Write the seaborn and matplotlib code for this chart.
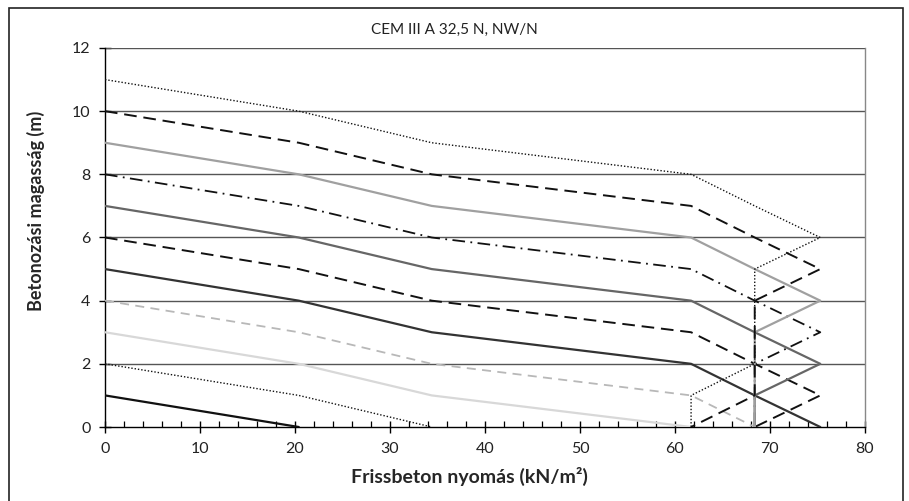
import matplotlib
matplotlib.use("Agg")
import matplotlib.pyplot as plt
import seaborn as sns
from matplotlib.patches import Rectangle
from matplotlib.ticker import MultipleLocator

# Nyomásértékek (kN/m2) és magasságok (m) betonozási magasságonként
p_h1 = [0, 20.4]
z_h1 = [1, 0]
p_h2 = [0, 20.4, 34.4]
z_h2 = [2, 1, 0]
p_h3 = [0, 20.4, 34.4, 61.7]
z_h3 = [3, 2, 1, 0]
p_h4 = [0, 20.4, 34.4, 61.7, 68.4]
z_h4 = [4, 3, 2, 1, 0]
p_h5 = [0, 20.4, 34.4, 61.7, 68.4, 75.3]
z_h5 = [5, 4, 3, 2, 1, 0]
p_h6 = [0, 20.4, 34.4, 61.7, 68.4, 75.3, 68.4]
z_h6 = [6, 5, 4, 3, 2, 1, 0]
p_h7 = [0, 20.4, 34.4, 61.7, 68.4, 75.3, 68.4, 68.4]
z_h7 = [7, 6, 5, 4, 3, 2, 1, 0]
p_h8 = [0, 20.4, 34.4, 61.7, 68.4, 75.3, 68.4, 68.4, 68.4]
z_h8 = [8, 7, 6, 5, 4, 3, 2, 1, 0]
p_h9 = [0, 20.4, 34.4, 61.7, 68.4, 75.3, 68.4, 68.4, 68.4, 68.4]
z_h9 = [9, 8, 7, 6, 5, 4, 3, 2, 1, 0]
p_h10 = [0, 20.4, 34.4, 61.7, 68.4, 75.3, 68.4, 68.4, 68.4, 68.4, 61.7]
z_h10 = [10, 9, 8, 7, 6, 5, 4, 3, 2, 1, 0]
p_h11 = [0, 20.4, 34.4, 61.7, 68.4, 75.3, 68.4, 68.4, 68.4, 68.4, 61.7, 61.7]
z_h11 = [11, 10, 9, 8, 7, 6, 5, 4, 3, 2, 1, 0]

x_ticks = [0, 10, 20, 30, 40, 50, 60, 70, 80]
y_ticks = [0, 2, 4, 6, 8, 10, 12]

sns.set_style("white")
plt.rcParams["font.family"] = ["Lato", "DejaVu Sans"]

fig = plt.figure(figsize=(9.09, 5.01), dpi=100)
ax = fig.add_axes([0.1155, 0.1477, 0.836, 0.7565])

# Vízszintes rácsvonalak
for yv in y_ticks[1:]:
    ax.axhline(yv, color="#555555", lw=1.0, zorder=1)

# Görbék: (x, y, szín, vonalstílus, vastagság)
series = [
    (p_h1, z_h1, "#111111", "-", 1.6),
    (p_h2, z_h2, "#111111", (0, (1, 1.4)), 1.0),
    (p_h3, z_h3, "#d8d8d8", "-", 1.6),
    (p_h4, z_h4, "#b8b8b8", (0, (5, 3.5)), 1.3),
    (p_h5, z_h5, "#333333", "-", 1.6),
    (p_h6, z_h6, "#111111", (0, (6.5, 3.5)), 1.4),
    (p_h7, z_h7, "#666666", "-", 1.6),
    (p_h8, z_h8, "#111111", (0, (7, 3, 1, 3)), 1.3),
    (p_h9, z_h9, "#a0a0a0", "-", 1.6),
    (p_h10, z_h10, "#111111", (0, (6.5, 3.5)), 1.4),
    (p_h11, z_h11, "#111111", (0, (1, 1.4)), 1.0),
]
for xs, ys, col, ls, lw in series:
    sns.lineplot(x=xs, y=ys, sort=False, estimator=None, color=col,
                 linestyle=ls, linewidth=lw, ax=ax, zorder=3)

ax.set_xlim(0, 80)
ax.set_ylim(0, 12)
ax.set_xticks(x_ticks)
ax.set_yticks(y_ticks)
ax.xaxis.set_minor_locator(MultipleLocator(2))

ax.spines["top"].set_visible(False)
ax.spines["right"].set_color("#888888")
ax.spines["right"].set_linewidth(1.0)
for s in ["left", "bottom"]:
    ax.spines[s].set_color("black")
    ax.spines[s].set_linewidth(1.0)

ax.tick_params(axis="both", which="major", direction="inout", length=9,
               width=1.0, color="black", labelsize=11.5, labelcolor="#222222",
               left=True, bottom=True, pad=6)
ax.tick_params(axis="x", which="minor", direction="in", length=4,
               width=0.9, color="black", bottom=True)

ax.set_xlabel("Frissbeton nyomás (kN/m²)", fontsize=14, fontweight="bold")
ax.xaxis.set_label_coords(0.48, -0.105)
ax.set_ylabel("Betonozási magasság (m)", fontsize=13, fontweight="bold")
ax.yaxis.set_label_coords(-0.079, 0.57)
fig.text(0.5, 0.94, "CEM III A 32,5 N, NW/N", ha="center", va="center",
         fontsize=11, color="#222222")

# Külső keret
fig.patches.append(Rectangle((9 / 909, -0.02), 894 / 909, 1 - 8 / 501 + 0.02,
                             transform=fig.transFigure, fill=False,
                             edgecolor="#222222", lw=1.2))

fig.savefig("out.png", dpi=100)
